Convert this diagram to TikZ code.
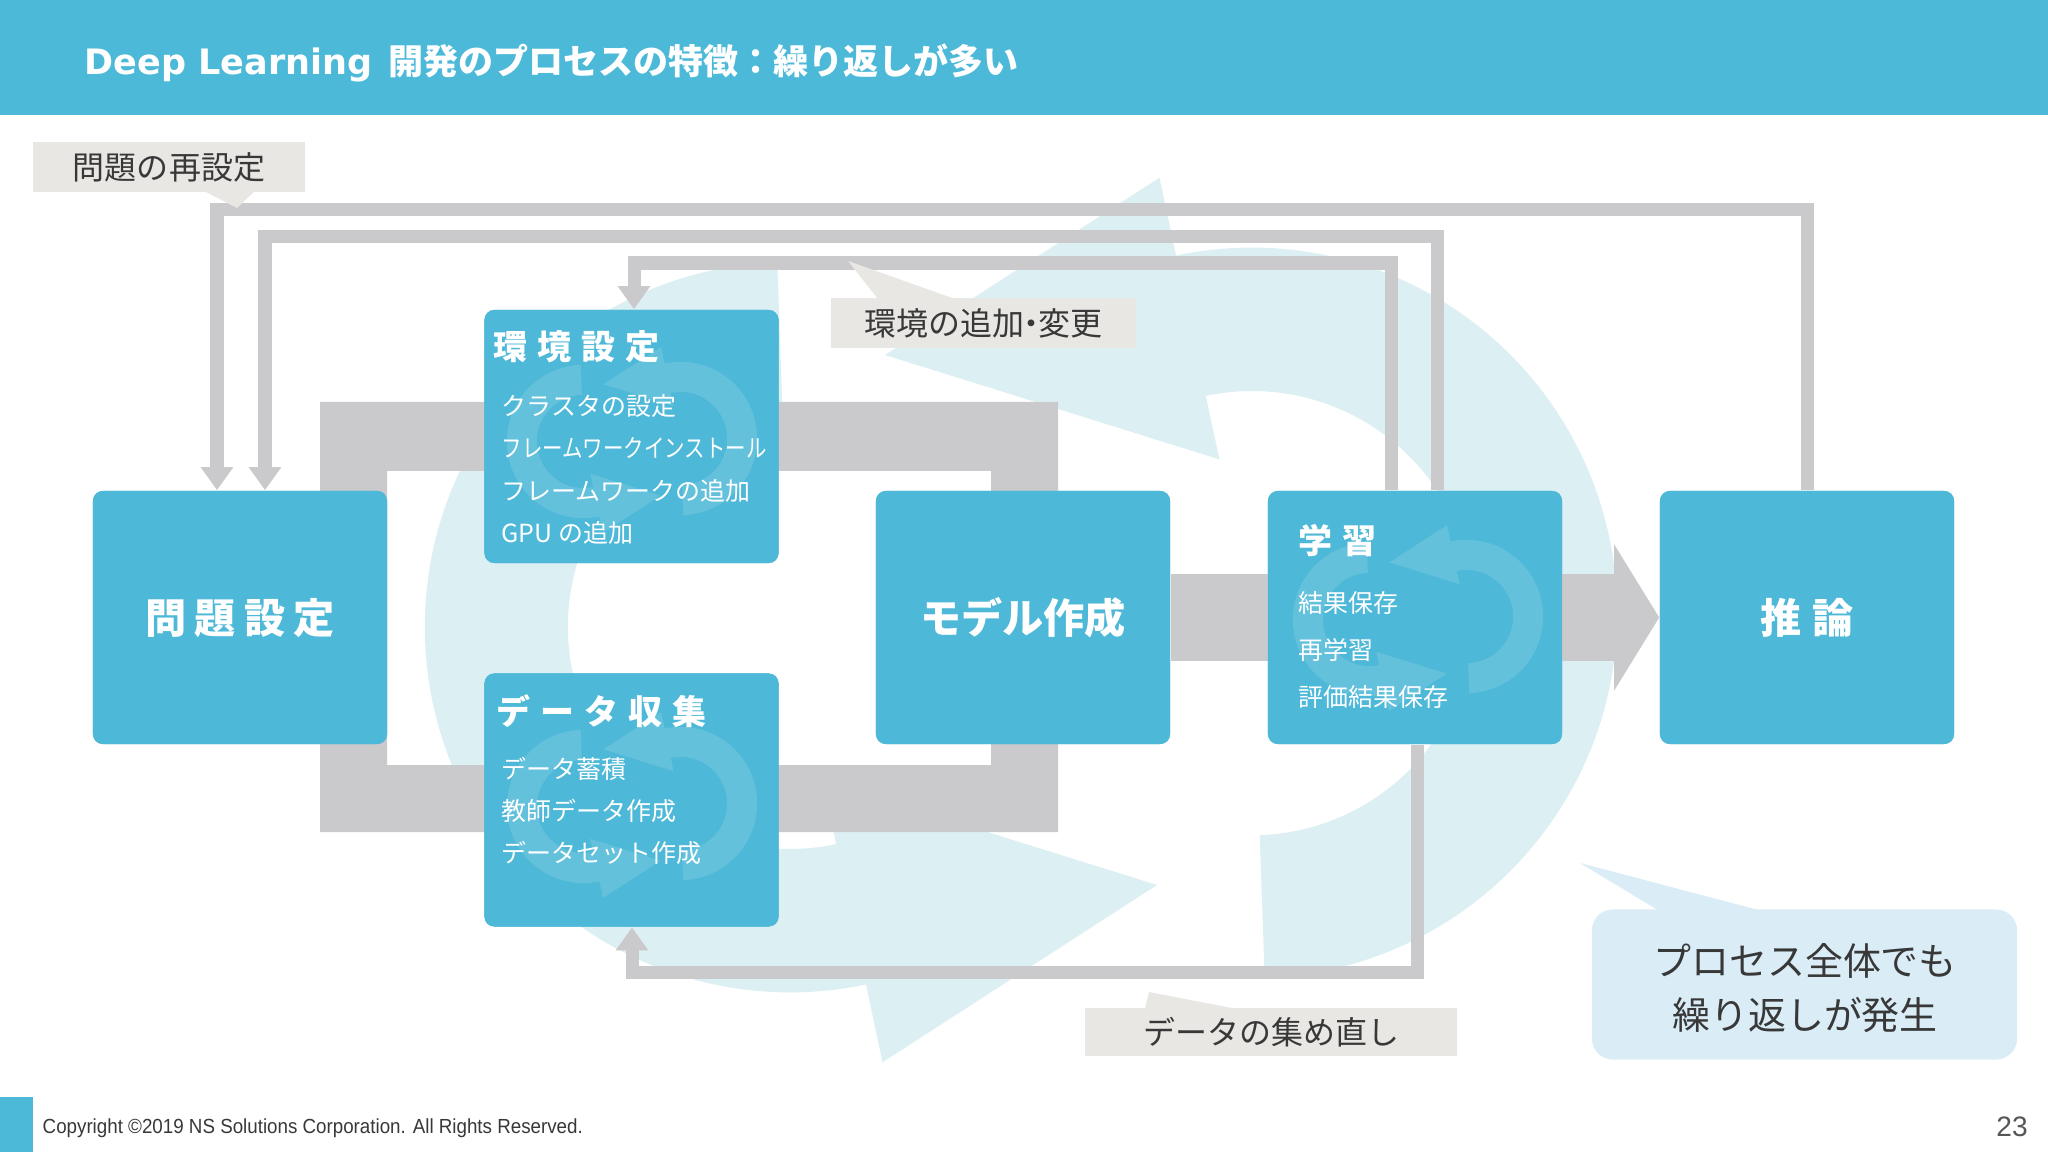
\documentclass[tikz,border=0pt]{standalone}
\usepackage{fontspec}
\usepackage{graphicx}
\setmainfont{Noto Sans CJK JP}
\newfontfamily\dejavu{DejaVu Sans}
\newfontfamily\libsans{Liberation Sans}
\usetikzlibrary{arrows.meta}
\definecolor{hdrc}{HTML}{4DB9D8}
\definecolor{boxc}{HTML}{4DB8D7}
\definecolor{lgray}{HTML}{CACACC}
\definecolor{palec}{HTML}{DCF0F4}
\definecolor{cgray}{HTML}{E8E7E4}
\definecolor{cblue}{HTML}{DAEDF6}
\definecolor{dtext}{HTML}{383838}
\newcommand\gapp{\kern2.3pt}
\newcommand\gaps{\kern2.8pt}
\newcommand\cycleicon[1]{%
 \fill[#1] (243.7,357.8) arc[start angle=-88,end angle=102,radius=3.65cm] -- (138.5,-442.3) -- (-136,-265) -- (198.4,-160.6) -- (184.8,-224.1) arc[start angle=102,end angle=-88,radius=2.22cm] -- cycle;
 \fill[#1] (-243.7,-357.8) arc[start angle=92,end angle=282,radius=3.65cm] -- (-138.5,442.3) -- (136,265) -- (-198.4,160.6) -- (-184.8,224.1) arc[start angle=282,end angle=92,radius=2.22cm] -- cycle;
}
\tikzset{
 box/.style={fill=boxc, rounded corners=0.1cm, minimum width=2.94cm, minimum height=2.53cm, inner sep=0, draw=none},
 loopline/.style={draw=lgray, line width=0.13cm, -{Triangle[width=0.31cm,length=0.23cm]}},
 item/.style={inner sep=0, anchor=west, text=white, font=\fontsize{7.1}{8}\selectfont, text height=6.25pt, text depth=0.85pt},
 subttl/.style={inner sep=0, anchor=west, text=white, font=\fontsize{9.67}{11}\selectfont\bfseries, text height=8.5pt, text depth=1.16pt},
 bigttl/.style={text=white, font=\fontsize{11.7}{13}\selectfont\bfseries, text height=10.3pt, text depth=1.4pt},
 callg/.style={fill=cgray, inner sep=0, minimum height=0.5cm, text=dtext, font=\fontsize{9.1}{10}\selectfont, text height=8pt, text depth=1.1pt},
 bigtxt/.style={inner sep=0, text=dtext, font=\fontsize{10.8}{12}\selectfont, text height=9.5pt, text depth=1.3pt},
}
\begin{document}
\begin{tikzpicture}[x=0.01cm,y=-0.01cm]
\useasboundingbox (0,0) rectangle (2048,1152);
\fill[white] (0,0) rectangle (2048,1152);

% pale background cycle icon
\begin{scope}[shift={(1021,620)}]
 \cycleicon{palec}
\end{scope}

% gray process band
\fill[lgray, even odd rule] (320,402) rectangle (1058,832) (387,471) rectangle (991,765);

% boxes (nodes)
\node[box] (prob) at (240,617.5) {};
\node[box] (env) at (631.5,436.5) {};
\node[box] (data) at (631.5,800) {};
\node[box] (model) at (1023,617.5) {};
\node[box] (learn) at (1415,617.5) {};
\node[box] (infer) at (1807,617.5) {};

% big arrow model -> infer
\draw[lgray, line width=0.87cm, -{Triangle[width=1.44cm,length=0.45cm]}] (model.east) -- (infer.west);

% loop lines
\coordinate (l1) at (217,210);
\coordinate (l2r) at (1437,237);
\coordinate (l2) at (265,237);
\coordinate (l3r) at (1391,263);
\coordinate (l3) at (634,263);
\coordinate (l4r) at (1417,972);
\coordinate (l4) at (632,972);
\draw[loopline] (infer.north) |- (l1) -- (l1 |- prob.north);
\draw[loopline] (learn.north -| l2r) |- (l2) -- (l2 |- prob.north);
\draw[loopline] (learn.north -| l3r) |- (l3) -- (l3 |- env.north);
\draw[loopline] (learn.south -| l4r) |- (l4) -- (l4 |- data.south);

% boxes on top
\node[box] at (prob) {};
\node[box] at (env) {};
\node[box] at (data) {};
\node[box] at (model) {};
\node[box] at (learn) {};
\node[box] at (infer) {};

% small cycle icons in boxes
\begin{scope}[shift={(632,440)},scale=0.21]
 \cycleicon{white,opacity=0.13}
\end{scope}
\begin{scope}[shift={(632,805)},scale=0.21]
 \cycleicon{white,opacity=0.13}
\end{scope}
\begin{scope}[shift={(1418,618)},scale=0.21]
 \cycleicon{white,opacity=0.13}
\end{scope}

% box texts
\node[bigttl] (probt) at (prob) {問\gapp 題\gapp 設\gapp 定};
\node[bigttl] (modelt) at (model) {モデル作成};
\node[bigttl] (infert) at (infer) {推\kern3.2pt 論};

\node[subttl] (envt) at (493,347) {環\gaps 境\gaps 設\gaps 定};
\node[item] (e1) at (501,406) {クラスタの設定};
\node[item] (e2) at (501,448) {\scalebox{0.82}[1]{フレームワークインストール}};
\node[item] (e3) at (501,491) {フレームワークの追加};
\node[item] (e4) at (501,533) {GPU の追加};

\node[subttl] (datat) at (496,712) {デ\gaps ー\gaps タ\gaps 収\gaps 集};
\node[item] (d1) at (501,769) {データ蓄積};
\node[item] (d2) at (501,811) {教師データ作成};
\node[item] (d3) at (501,853) {データセット作成};

\node[subttl] (learnt) at (1298,541) {学\gaps 習};
\node[item] (r1) at (1298,603) {結果保存};
\node[item] (r2) at (1298,650) {再学習};
\node[item] (r3) at (1298,697) {評価結果保存};

% gray callouts
\fill[cgray] (204,191) -- (255,191) -- (237,208) -- cycle;
\node[callg, minimum width=2.72cm] (lbl1) at (169,167) {問題の再設定};
\fill[cgray] (878,299) -- (955,299) -- (848,261) -- cycle;
\node[callg, minimum width=3.05cm] (lbl2) at (983.5,323) {環境の追加\kern-2.5pt・\kern-2.5pt変更};
\fill[cgray] (1145,1009) -- (1237,1009) -- (1149,992) -- cycle;
\node[callg, minimum width=3.72cm, minimum height=0.48cm] (lbl3) at (1271,1032) {データの集め直し};

% blue callout
\fill[cblue] (1661,912) -- (1766,912) -- (1580,863) -- cycle;
\node[fill=cblue, rounded corners=0.21cm, minimum width=4.25cm, minimum height=1.5cm, inner sep=0] (bigc) at (1804.5,984.5) {};
\node[bigtxt] (bigc1) at (1805,961) {プロセス全体でも};
\node[bigtxt] (bigc2) at (1805,1015) {繰り返しが発生};

% header
\fill[hdrc] (0,0) rectangle (2048,115);
\node[anchor=west, inner sep=0, text=white, font=\fontsize{9.96}{11}\selectfont, text height=8.76pt, text depth=1.2pt] (title) at (84,61) {{\dejavu\bfseries Deep Learning}\kern4.5pt\bfseries 開発のプロセスの特徴：繰り返しが多い};

% footer
\fill[hdrc] (0,1097) rectangle (33,1152);
\node[anchor=west, inner sep=0, text=dtext, font=\libsans\fontsize{5.8}{7}\selectfont] (copy) at (42,1128) {\scalebox{0.92}[1]{Copyright ©2019 NS Solutions Corporation. All Rights Reserved.}};
\node[inner sep=0, text=dtext!85, font=\libsans\fontsize{8}{9}\selectfont] (pg) at (2012,1127) {23};
\end{tikzpicture}
\end{document}
